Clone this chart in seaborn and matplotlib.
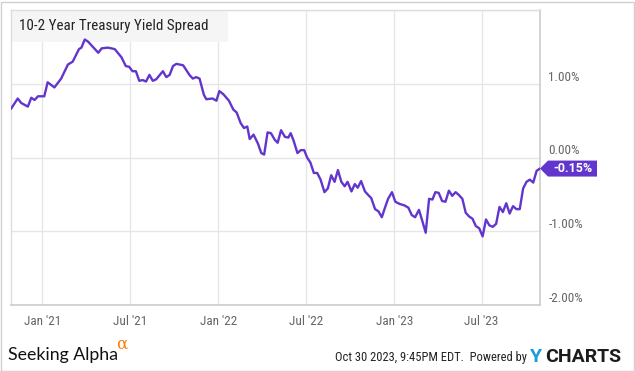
import matplotlib
matplotlib.use("Agg")
import matplotlib.pyplot as plt
from matplotlib import font_manager
from matplotlib.patches import Rectangle, Polygon
import matplotlib.dates as mdates
import seaborn as sns
import pandas as pd

# ---------------- data ----------------
dates = [
    "2020-10-28", "2020-11-11", "2020-11-18", "2020-12-02", "2020-12-09", "2020-12-16", "2020-12-23",
    "2021-01-05", "2021-01-12", "2021-01-26", "2021-02-09", "2021-02-23", "2021-03-05", "2021-03-18",
    "2021-03-23", "2021-03-30", "2021-04-06", "2021-04-27", "2021-05-04", "2021-05-17", "2021-05-31",
    "2021-06-14", "2021-06-23", "2021-06-30", "2021-07-07", "2021-07-14", "2021-07-21", "2021-07-28",
    "2021-08-04", "2021-08-11", "2021-08-18", "2021-08-25", "2021-09-08", "2021-09-15", "2021-09-22",
    "2021-09-29", "2021-10-06", "2021-10-20", "2021-11-02", "2021-11-09", "2021-11-16", "2021-11-23",
    "2021-12-02", "2021-12-07", "2021-12-20", "2021-12-28", "2022-01-03", "2022-01-11", "2022-01-23",
    "2022-02-01", "2022-02-08", "2022-02-16", "2022-02-23", "2022-03-02", "2022-03-07", "2022-03-15",
    "2022-03-24", "2022-03-31", "2022-04-06", "2022-04-13", "2022-04-20", "2022-04-28", "2022-05-04",
    "2022-05-11", "2022-05-19", "2022-05-26", "2022-05-31", "2022-06-06", "2022-06-14", "2022-06-21",
    "2022-06-28", "2022-07-04", "2022-07-11", "2022-07-18", "2022-07-25", "2022-08-01", "2022-08-09",
    "2022-08-16", "2022-08-23", "2022-08-30", "2022-09-06", "2022-09-13", "2022-09-20", "2022-09-26",
    "2022-10-04", "2022-10-11", "2022-10-17", "2022-10-24", "2022-11-01", "2022-11-08", "2022-11-14",
    "2022-11-22", "2022-11-29", "2022-12-06", "2022-12-12", "2022-12-19", "2022-12-27", "2023-01-03",
    "2023-01-12", "2023-01-22", "2023-01-30", "2023-02-06", "2023-02-13", "2023-02-21", "2023-02-27",
    "2023-03-07", "2023-03-14", "2023-03-21", "2023-03-27", "2023-04-03", "2023-04-10", "2023-04-17",
    "2023-04-24", "2023-05-01", "2023-05-08", "2023-05-15", "2023-05-22", "2023-05-29", "2023-06-05",
    "2023-06-12", "2023-06-19", "2023-06-26", "2023-07-03", "2023-07-10", "2023-07-17", "2023-07-24",
    "2023-07-31", "2023-08-07", "2023-08-14", "2023-08-21", "2023-08-28", "2023-09-04", "2023-09-11",
    "2023-09-18", "2023-09-25", "2023-10-02", "2023-10-09", "2023-10-16", "2023-10-23", "2023-10-30",
]
spread = [
    0.66, 0.80, 0.74, 0.69, 0.81, 0.78, 0.83,
    0.83, 1.02, 0.95, 1.07, 1.26, 1.30, 1.47,
    1.49, 1.60, 1.57, 1.42, 1.48, 1.49, 1.47,
    1.36, 1.24, 1.23, 1.17, 1.17, 1.04, 1.05,
    1.03, 1.12, 1.04, 1.06, 1.17, 1.09, 1.12,
    1.24, 1.27, 1.25, 1.12, 1.07, 1.09, 1.07,
    0.85, 0.79, 0.80, 0.77, 0.90, 0.86, 0.77,
    0.65, 0.61, 0.47, 0.40, 0.42, 0.25, 0.31,
    0.19, 0.06, 0.04, 0.34, 0.33, 0.24, 0.20,
    0.37, 0.28, 0.27, 0.33, 0.23, 0.06, 0.10,
    0.10, 0.00, -0.07, -0.21, -0.21, -0.30, -0.47,
    -0.42, -0.24, -0.33, -0.17, -0.33, -0.39, -0.33,
    -0.46, -0.36, -0.41, -0.32, -0.46, -0.51, -0.55,
    -0.70, -0.73, -0.81, -0.69, -0.56, -0.47, -0.60,
    -0.63, -0.65, -0.68, -0.78, -0.81, -0.71, -0.84,
    -1.02, -0.56, -0.57, -0.47, -0.48, -0.59, -0.60,
    -0.45, -0.52, -0.47, -0.51, -0.56, -0.75, -0.80,
    -0.83, -0.93, -0.96, -1.07, -0.84, -0.92, -0.94,
    -0.90, -0.67, -0.74, -0.62, -0.76, -0.66, -0.70,
    -0.70, -0.42, -0.33, -0.30, -0.34, -0.18, -0.15,
]
x_tick_dates = ["2021-01-01", "2021-07-01", "2022-01-01", "2022-07-01", "2023-01-01", "2023-07-01"]
x_tick_labels = ["Jan '21", "Jul '21", "Jan '22", "Jul '22", "Jan '23", "Jul '23"]
y_ticks = [-2.0, -1.0, 0.0, 1.0]
y_tick_labels = ["-2.00%", "-1.00%", "0.00%", "1.00%"]
title = "10-2 Year Treasury Yield Spread"
x_start, x_end = "2020-10-28", "2023-10-30"

# ---------------- style ----------------
sns.set_theme(style="white")
installed = {f.name for f in font_manager.fontManager.ttflist}
cond = None
for cand in ["Roboto Condensed", "Liberation Sans Narrow", "Arial Narrow"]:
    if cand in installed:
        cond = cand
        break
base = "Roboto" if "Roboto" in installed else "DejaVu Sans"
font_main = cond if cond else base
plt.rcParams["font.family"] = [font_main, "DejaVu Sans"]

LINE = "#6236cc"
GRID = "#e6e6e6"
TXT = "#666666"

W, H = 635, 371
fig = plt.figure(figsize=(W / 100, H / 100), dpi=100)
ax = fig.add_axes([11 / W, 1 - 305 / H, 529 / W, 295 / H])

df = pd.DataFrame({"date": pd.to_datetime(dates), "spread": spread})
sns.lineplot(data=df, x="date", y="spread", ax=ax, color=LINE, linewidth=1.7, zorder=4)

ax.set_xlim(pd.Timestamp(x_start), pd.Timestamp(x_end))
ax.set_ylim(-2.0, 2.0)
ax.set_xlabel("")
ax.set_ylabel("")

ax.set_xticks(pd.to_datetime(x_tick_dates))
ax.set_xticklabels(x_tick_labels)
ax.set_yticks(y_ticks + [2.0])
ax.set_yticklabels(y_tick_labels + [""])
ax.yaxis.tick_right()
ax.tick_params(axis="y", length=0, pad=6, labelsize=9.5, labelcolor=TXT)
ax.tick_params(axis="x", length=0, pad=7, labelsize=9.5, labelcolor=TXT)
for lab in ax.get_yticklabels():
    lab.set_verticalalignment("bottom")
ax.grid(True, color=GRID, linewidth=1.0, zorder=0)
ax.set_axisbelow(True)
for side in ["left", "top"]:
    ax.spines[side].set_color("#dddddd")
    ax.spines[side].set_linewidth(1.0)
for side in ["right", "bottom"]:
    ax.spines[side].set_color("#cccccc")
    ax.spines[side].set_linewidth(1.2)

# title box
ax.add_patch(Rectangle((0, 1 - 32 / 295), 217 / 529, 32 / 295, transform=ax.transAxes,
                       facecolor="#f5f5f5", edgecolor="none", zorder=2, clip_on=False))
ax.text(8 / 529, 1 - 16 / 295, title, transform=ax.transAxes, ha="left", va="center",
        fontsize=10.8, color="#222222", zorder=3)

# last value tag
fig.canvas.draw()
last_x = mdates.date2num(df["date"].iloc[-1])
last_y = df["spread"].iloc[-1]
tx, ty = ax.transData.transform((last_x, last_y))
tag = Polygon([(tx, ty), (tx + 8, ty + 8), (tx + 57, ty + 8), (tx + 57, ty - 8), (tx + 8, ty - 8)],
              closed=True, transform=None, facecolor=LINE, edgecolor="none", zorder=6, clip_on=False)
fig.patches.append(tag)
fig.text((tx + 33) / W, ty / H, f"{last_y:.2f}%", ha="center", va="center", color="white",
         fontsize=9, fontweight="bold", family=[base, "DejaVu Sans"], zorder=12)

# footer
fig.text(8 / W, 1 - 355 / H, "Seeking Alpha", ha="left", va="center", fontsize=12.8,
         color="#111111", family=["Lato", "DejaVu Sans"])
fig.text(116 / W, 1 - 344 / H, "α", ha="left", va="center", fontsize=12,
         color="#ff7a00", family=["DejaVu Serif"])
fig.text(527 / W, 1 - 358 / H, "Oct 30 2023, 9:45PM EDT.  Powered by", ha="right", va="center",
         fontsize=9, color="#222222")
fig.text(530 / W, 1 - 357 / H, "Y", ha="left", va="center", fontsize=14, fontweight="bold",
         color="#1a9cd8", family=[base, "DejaVu Sans"])
fig.text(545 / W, 1 - 357 / H, "CHARTS", ha="left", va="center", fontsize=14, fontweight="bold",
         color="#1c1c1c", family=[base, "DejaVu Sans"])

# outer border
fig.patches.append(Rectangle((0.5 / W, 0.5 / H), (W - 2) / W, (H - 2) / H, transform=fig.transFigure,
                             facecolor="none", edgecolor="#d0d0d0", linewidth=1.0, zorder=10))

fig.savefig("out.png", dpi=100)
